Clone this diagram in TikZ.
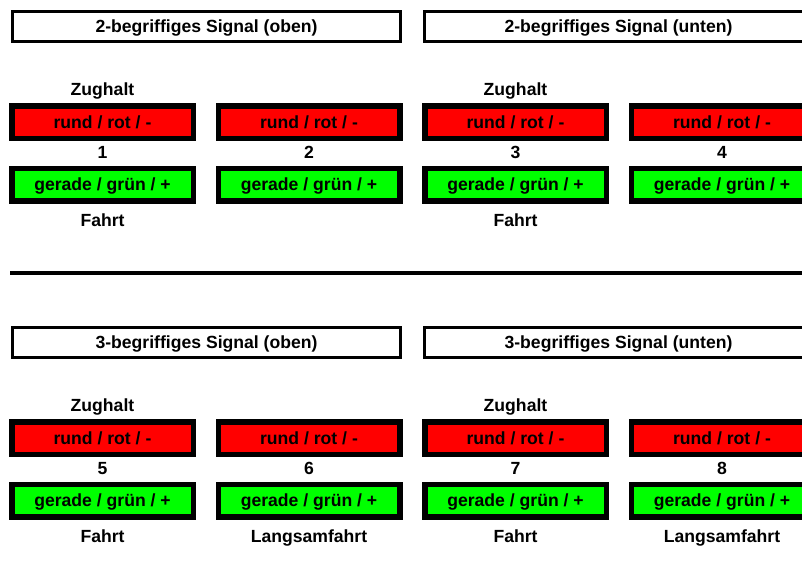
\documentclass[tikz,border=0pt]{standalone}
\usepackage{fontspec}
\setmainfont{Liberation Sans}
\newcommand{\signalfont}{\bfseries\fontsize{17.6}{20}\selectfont}

\begin{document}
\begin{tikzpicture}[x=1pt,y=-1pt,
    lamp/.style={draw=black,line width=5.5pt,minimum width=181.5pt,minimum height=32.5pt,inner sep=0pt,text height=12.7pt,text depth=0pt,font=\signalfont},
    rotlamp/.style={lamp,fill=red},
    gruenlamp/.style={lamp,fill=green},
    titel/.style={draw=black,fill=white,line width=2.7pt,minimum width=388.3pt,minimum height=30.3pt,inner sep=0pt,text height=12.7pt,text depth=0pt,font=\signalfont},
    beschr/.style={anchor=base,inner sep=0pt,font=\signalfont}]
      \useasboundingbox (0,0) rectangle (802,581);
      % titles
      \node[titel] (titel1) at (206.5,26.5) {2-begriffiges Signal (oben)};
      \node[titel] (titel2) at (618.5,26.5) {2-begriffiges Signal (unten)};
      \node[titel] (titel3) at (206.5,342.5) {3-begriffiges Signal (oben)};
      \node[titel] (titel4) at (618.5,342.5) {3-begriffiges Signal (unten)};
      % separator
      \draw[line width=4pt] (10,273) -- (802,273);
      % lamps and numbers
      \foreach \h in {0,1} {
        \foreach \i in {0,...,3} {
          \pgfmathtruncatemacro\nr{4*\h+\i+1}
          \node[rotlamp] (rot\nr) at (102.5+206.5*\i,122+316*\h) {rund / rot / -};
          \node[gruenlamp] (gruen\nr) at (102.5+206.5*\i,184.5+316*\h) {gerade / grün / +};
          \node[beschr] (nr\nr) at (102.5+206.5*\i,158.5+316*\h) {\nr};
        }
        \foreach \i in {0,2} {
          \pgfmathtruncatemacro\k{\h*10+\i}
          \node[beschr] (halt\k) at (102.5+206.5*\i,95+316*\h) {Zughalt};
          \node[beschr] (fahrt\k) at (102.5+206.5*\i,226+316*\h) {Fahrt};
        }
      }
      \foreach \i in {1,3} {
        \node[beschr] (langsam\i) at (102.5+206.5*\i,542) {Langsamfahrt};
      }
   \end{tikzpicture}
\end{document}
